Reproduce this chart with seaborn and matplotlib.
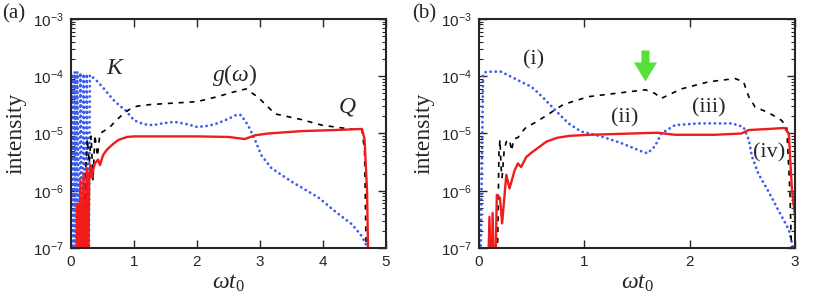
import numpy as np
import pandas as pd
import seaborn as sns
import matplotlib
matplotlib.use("Agg")
import matplotlib.pyplot as plt
from matplotlib.ticker import LogLocator, FuncFormatter, NullFormatter

# panel (a) data
a_K_x = [0.00, 0.02, 0.04, 0.06, 0.08, 0.10, 0.13, 0.15, 0.18, 0.20, 0.23, 0.25, 0.28, 0.30,
         0.40, 0.50, 0.60, 0.68, 0.78, 0.86, 1.00, 1.16, 1.30, 1.45, 1.64, 1.85, 2.00, 2.15,
         2.28, 2.42, 2.54, 2.62, 2.70, 2.81, 2.92, 3.02, 3.18, 3.50, 3.93, 4.20, 4.46, 4.60,
         4.68, 4.72]
a_K = [1e-8, 1.1e-4, 1e-8, 1.2e-4, 1e-8, 1.2e-4, 1e-8, 1.15e-4, 1e-8, 1.1e-4, 1e-8, 1.1e-4,
       1e-8, 1.05e-4, 8.5e-5, 6.5e-5, 4.8e-5, 3.8e-5, 3.0e-5, 2.6e-5, 1.7e-5, 1.45e-5, 1.4e-5,
       1.5e-5, 1.6e-5, 1.45e-5, 1.3e-5, 1.35e-5, 1.45e-5, 1.65e-5, 1.9e-5, 2.1e-5, 2.1e-5,
       1.4e-5, 7.8e-6, 4.2e-6, 2.5e-6, 1.45e-6, 7.6e-7, 4.3e-7, 2.6e-7, 1.7e-7, 1.2e-7, 1e-8]
a_g_x = [0.20, 0.23, 0.26, 0.29, 0.32, 0.35, 0.38, 0.42, 0.46, 0.52, 0.62, 0.72, 0.81, 0.92,
         1.05, 1.26, 1.64, 2.00, 2.33, 2.55, 2.78, 2.97, 3.24, 3.66, 3.98, 4.30, 4.62, 4.66, 4.70]
a_g = [1e-8, 2e-6, 8e-6, 3e-6, 9e-6, 1.5e-6, 9.5e-6, 4e-6, 1e-5, 1.1e-5, 1.3e-5, 1.7e-5,
       2.1e-5, 2.6e-5, 3e-5, 3.2e-5, 3.4e-5, 3.6e-5, 4.4e-5, 5.2e-5, 6e-5, 4.3e-5, 2.2e-5,
       1.75e-5, 1.4e-5, 1.25e-5, 1.15e-5, 5e-6, 1e-8]
a_Q_x = [0.08, 0.10, 0.12, 0.15, 0.17, 0.20, 0.22, 0.25, 0.27, 0.29, 0.31, 0.33, 0.35, 0.38,
         0.43, 0.46, 0.51, 0.57, 0.65, 0.75, 0.89, 1.00, 1.50, 2.00, 2.50, 2.76, 2.92, 3.13,
         3.66, 4.20, 4.62, 4.66, 4.70, 4.73]
a_Q = [1e-8, 6e-7, 1e-8, 1.5e-6, 1e-8, 2e-6, 1e-8, 2.5e-6, 1e-8, 2e-6, 2.8e-6, 1.7e-6, 2.3e-6,
       3e-6, 3.5e-6, 2.8e-6, 4.2e-6, 5.2e-6, 6.3e-6, 7.7e-6, 8.7e-6, 8.9e-6, 8.9e-6, 8.9e-6,
       8.7e-6, 8e-6, 9.3e-6, 1.0e-5, 1.1e-5, 1.15e-5, 1.2e-5, 8e-6, 1e-6, 1e-8]

# panel (b) data
b_K_x = [0.01, 0.04, 0.07, 0.21, 0.34, 0.50, 0.60, 0.72, 0.85, 0.97, 1.16, 1.35, 1.54, 1.60,
         1.67, 1.73, 1.86, 2.08, 2.40, 2.51, 2.56, 2.59, 2.65, 2.75, 2.84, 2.94, 2.98, 2.99]
b_K = [1e-8, 1.1e-4, 1.2e-4, 1.2e-4, 9.1e-5, 6.5e-5, 4.4e-5, 2.6e-5, 1.5e-5, 1.08e-5, 8.9e-6,
       6.8e-6, 4.9e-6, 4.5e-6, 6e-6, 1e-5, 1.4e-5, 1.5e-5, 1.5e-5, 1.3e-5, 7.8e-6, 4e-6, 2e-6,
       9.5e-7, 4.6e-7, 2.1e-7, 1e-7, 1e-8]
b_g_x = [0.17, 0.19, 0.20, 0.21, 0.22, 0.24, 0.26, 0.29, 0.31, 0.33, 0.37, 0.41, 0.45, 0.52,
         0.61, 0.80, 1.04, 1.29, 1.58, 1.67, 1.73, 1.92, 2.18, 2.43, 2.51, 2.56, 2.62, 2.75,
         2.87, 2.92, 2.95, 2.98]
b_g = [1e-8, 4.6e-6, 7.8e-6, 2.6e-6, 1.7e-6, 5.2e-6, 7.2e-6, 7.8e-6, 5e-6, 8e-6, 8.5e-6,
       1.07e-5, 1.3e-5, 1.5e-5, 1.9e-5, 3.2e-5, 4.4e-5, 5e-5, 5.8e-5, 5e-5, 4.1e-5, 6e-5, 8e-5,
       9.1e-5, 8e-5, 4.4e-5, 2.9e-5, 2.3e-5, 1.7e-5, 1.3e-5, 1e-6, 1e-8]
b_Q_x = [0.08, 0.10, 0.12, 0.13, 0.15, 0.17, 0.20, 0.22, 0.26, 0.29, 0.34, 0.37, 0.40, 0.45,
         0.49, 0.56, 0.64, 0.74, 0.86, 1.05, 1.30, 1.60, 1.70, 1.86, 2.24, 2.49, 2.56, 2.75,
         2.90, 2.94, 2.97, 3.00]
b_Q = [1e-8, 3.5e-7, 1e-8, 4.1e-7, 1e-8, 8.5e-7, 7.5e-7, 2.7e-7, 1.9e-6, 1.1e-6, 2.3e-6, 3e-6,
       2.6e-6, 3.9e-6, 4.5e-6, 5.6e-6, 7.2e-6, 8.4e-6, 9.1e-6, 9.5e-6, 9.8e-6, 1.02e-5, 1.03e-5,
       9.5e-6, 9.5e-6, 1.0e-5, 1.15e-5, 1.2e-5, 1.25e-5, 1e-5, 1e-6, 3.5e-7]

a_xticks = [0, 1, 2, 3, 4, 5]
b_xticks = [0, 1, 2, 3]

sns.set_style("ticks")
plt.rcParams["font.family"] = ["Liberation Serif", "DejaVu Serif"]
plt.rcParams["mathtext.fontset"] = "custom"
plt.rcParams["mathtext.it"] = "Liberation Serif:italic"
plt.rcParams["mathtext.rm"] = "Liberation Serif"
plt.rcParams["mathtext.sf"] = "Liberation Sans"

fig = plt.figure(figsize=(8.3, 2.96), dpi=100)
ax_a = fig.add_axes([0.0855, 0.162, 0.3795, 0.774])
ax_b = fig.add_axes([0.577, 0.162, 0.381, 0.774])

red = "#f01c1c"
blue = "#3c5cf0"


def draw(ax, kx, k, gx, g, qx, q, xmax, xticks):
    sns.lineplot(x=kx, y=k, ax=ax, color=blue, lw=2.0, linestyle=(0, (0.05, 1.8)),
                 dash_capstyle="round", estimator=None, sort=False)
    sns.lineplot(x=gx, y=g, ax=ax, color="black", lw=1.2, linestyle=(0, (3, 3.5)),
                 estimator=None, sort=False)
    sns.lineplot(x=qx, y=q, ax=ax, color=red, lw=1.7, estimator=None, sort=False)
    ax.set_yscale("log")
    ax.set_ylim(1e-7, 1e-3)
    ax.set_xlim(0, xmax)
    ax.set_xticks(xticks)
    ax.set_xticklabels([r"$\mathsf{%d}$" % t for t in xticks])
    ax.yaxis.set_major_locator(LogLocator(base=10, numticks=10))
    ax.yaxis.set_minor_locator(LogLocator(base=10, subs=np.arange(2, 10), numticks=10))
    ax.yaxis.set_major_formatter(FuncFormatter(lambda v, p: r"$\mathsf{10^{%d}}$" % round(np.log10(v))))
    ax.yaxis.set_minor_formatter(NullFormatter())
    ax.tick_params(which="both", direction="in", top=True, right=True, labelsize=11, pad=5)
    ax.tick_params(which="major", length=6, width=1)
    ax.tick_params(which="minor", length=3, width=0.8)
    for s in ax.spines.values():
        s.set_linewidth(1.5)
    ax.set_xlabel(r"$\omega t_0$", fontsize=17, labelpad=3)
    ax.set_ylabel("intensity", fontsize=17, labelpad=5)


draw(ax_a, a_K_x, a_K, a_g_x, a_g, a_Q_x, a_Q, 5, a_xticks)
draw(ax_b, b_K_x, b_K, b_g_x, b_g, b_Q_x, b_Q, 3, b_xticks)

ax_a.text(0.7, 10**-3.86, r"$K$", fontsize=17, ha="center", va="center")
ax_a.text(2.6, 10**-3.98, r"$g(\omega)$", fontsize=17, ha="center", va="center")
ax_a.text(4.38, 10**-4.54, r"$Q$", fontsize=17, ha="center", va="center")

ax_b.text(0.52, 10**-3.72, "(i)", fontsize=16, ha="center", va="center")
ax_b.text(1.38, 10**-4.73, "(ii)", fontsize=16, ha="center", va="center")
ax_b.text(2.18, 10**-4.55, "(iii)", fontsize=16, ha="center", va="center")
ax_b.text(2.75, 10**-5.34, "(iv)", fontsize=16, ha="center", va="center")

ax_b.annotate("", xy=(1.58, 10**-4.09), xytext=(1.58, 10**-3.55),
              arrowprops=dict(arrowstyle="simple,head_length=0.68,head_width=0.83,tail_width=0.29",
                              mutation_scale=20, color="#58e03a", shrinkA=0, shrinkB=0, lw=0))

fig.text(0.002, 0.985, "(a)", fontsize=15, ha="left", va="top")
fig.text(0.497, 0.985, "(b)", fontsize=15, ha="left", va="top")

fig.savefig("out.png", dpi=100)
